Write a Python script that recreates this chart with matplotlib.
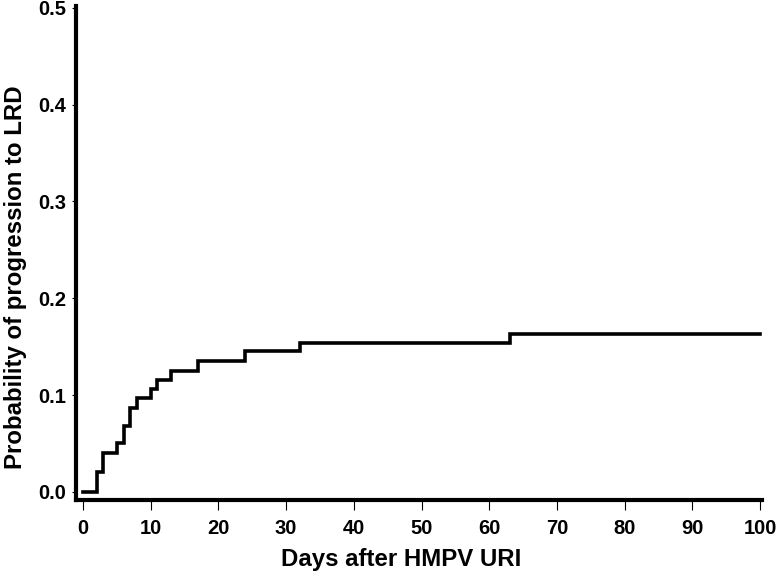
import numpy as np
import matplotlib
matplotlib.use('Agg')
import matplotlib.pyplot as plt

# datos (dias, probabilidad acumulada)
dias = [0, 2, 3, 5, 6, 7, 8, 10, 11, 13, 17, 24, 32, 63, 100]
prob = [0.0, 0.021, 0.040, 0.050, 0.068, 0.087, 0.097, 0.106, 0.116,
        0.125, 0.135, 0.145, 0.154, 0.163, 0.163]

xticks = [0, 10, 20, 30, 40, 50, 60, 70, 80, 90, 100]
yticks = [0.0, 0.1, 0.2, 0.3, 0.4, 0.5]

plt.rcParams['font.family'] = ['Liberation Sans', 'DejaVu Sans']
plt.rcParams['font.weight'] = 'bold'

fig = plt.figure(figsize=(7.76, 5.82), dpi=100)
ax = fig.add_axes([0.098, 0.141, 0.884, 0.849])

ax.step(dias, prob, where='post', color='black', linewidth=2.6,
        solid_joinstyle='miter')

ax.set_xlim(-1.03, 100.3)
ax.set_ylim(-0.0083, 0.502)

ax.spines['top'].set_visible(False)
ax.spines['right'].set_visible(False)
ax.spines['left'].set_linewidth(3)
ax.spines['bottom'].set_linewidth(3)

ax.set_xticks(xticks)
ax.set_xticklabels([str(t) for t in xticks])
ax.set_yticks(yticks)
ax.set_yticklabels(['%.1f' % t for t in yticks])
ax.tick_params(axis='x', length=7, width=0.8, pad=7, labelsize=14.5)
ax.tick_params(axis='y', length=3, width=0.8, pad=4, labelsize=14.5)

ax.set_xlabel('Days after HMPV URI', fontsize=17.3, fontweight='bold')
ax.set_ylabel('Probability of progression to LRD', fontsize=17.3, fontweight='bold')
ax.xaxis.set_label_coords(0.474, -0.097)
ax.yaxis.set_label_coords(-0.072, 0.45)

fig.savefig('out.png', dpi=100)
